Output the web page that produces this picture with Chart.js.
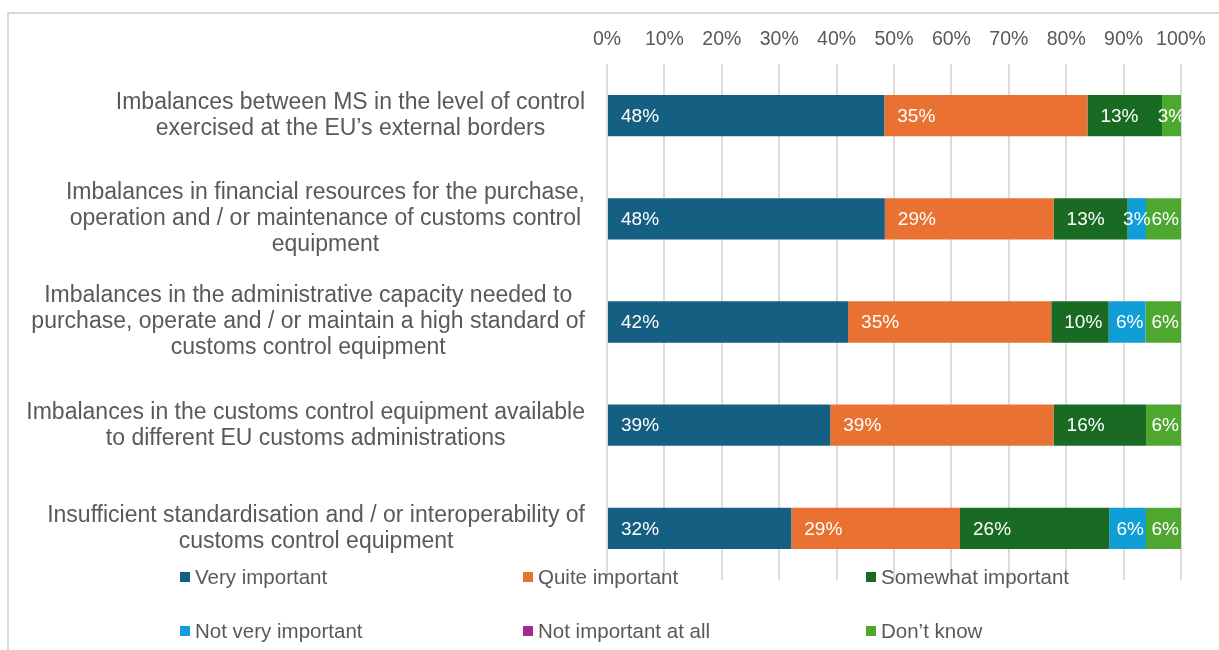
<!DOCTYPE html>
<html>
<head>
<meta charset="utf-8">
<title>Customs control equipment imbalances</title>
<script src="https://cdn.jsdelivr.net/npm/chart.js@4.4.1/dist/chart.umd.min.js"></script>
<style>
  html, body { margin: 0; padding: 0; background: #fff; overflow: hidden; }
  #wrap { position: relative; width: 1219px; height: 650px; }
  #frame { position: absolute; left: 7px; top: 12px; width: 1260px; height: 680px; border: 2px solid #d9d9d9; box-sizing: border-box; }
  #surveyChart { position: absolute; left: 0; top: 0; }
</style>
</head>
<body>
<div id="wrap">
  <div id="frame"></div>
  <canvas id="surveyChart" width="1219" height="650"></canvas>
</div>
<script>
const categories = [
    ["Imbalances between MS in the level of control", "exercised at the EU\u2019s external borders"],
    ["Imbalances in financial resources for the purchase,", "operation and / or maintenance of customs control", "equipment"],
    ["Imbalances in the administrative capacity needed to", "purchase, operate and / or maintain a high standard of", "customs control equipment"],
    ["Imbalances in the customs control equipment available", "to different EU customs administrations"],
    ["Insufficient standardisation and / or interoperability of", "customs control equipment"]
];

const veryImportant     = [48.3, 48.4, 42.0, 38.9, 32.1];
const quiteImportant    = [35.4, 29.4, 35.4, 38.9, 29.4];
const somewhatImportant = [13.0, 12.9, 10.0, 16.1, 26.0];
const notVeryImportant  = [0, 3.2, 6.4, 0, 6.4];
const notImportantAtAll = [0, 0, 0, 0, 0];
const dontKnow          = [3.3, 6.1, 6.2, 6.1, 6.1];

const tickLabels = ["0%", "10%", "20%", "30%", "40%", "50%", "60%", "70%", "80%", "90%", "100%"];

const FONT = '"Liberation Sans", Arial, sans-serif';
const GREY = '#595959';

// category text to the left of the bars, each block right-aligned, lines centred
const categoryLabels = {
    id: 'categoryLabels',
    afterDraw(chart) {
        const ctx = chart.ctx;
        const yScale = chart.scales.y;
        const right = chart.chartArea.left - 22;
        const lineH = 26;
        ctx.save();
        ctx.font = '23px ' + FONT;
        ctx.fillStyle = GREY;
        ctx.textAlign = 'center';
        ctx.textBaseline = 'middle';
        chart.data.labels.forEach((lines, i) => {
            const widest = Math.max(...lines.map(l => ctx.measureText(l).width));
            const cx = right - widest / 2;
            const cy = yScale.getPixelForValue(i);
            lines.forEach((line, j) => {
                ctx.fillText(line, cx, cy + (j - (lines.length - 1) / 2) * lineH);
            });
        });
        ctx.restore();
    }
};

// percentage text inside each segment, near the segment start
const barValueLabels = {
    id: 'barValueLabels',
    afterDatasetsDraw(chart) {
        const ctx = chart.ctx;
        const area = chart.chartArea;
        ctx.save();
        ctx.beginPath();
        ctx.rect(area.left, area.top, area.right - area.left, area.bottom - area.top);
        ctx.clip();
        ctx.font = '19px ' + FONT;
        ctx.fillStyle = '#ffffff';
        ctx.textAlign = 'left';
        ctx.textBaseline = 'middle';
        chart.data.datasets.forEach((ds, d) => {
            const meta = chart.getDatasetMeta(d);
            meta.data.forEach((bar, i) => {
                const v = ds.data[i];
                if (!v) return;
                const txt = Math.round(v) + '%';
                const tw = ctx.measureText(txt).width;
                const bw = bar.x - bar.base;
                // narrow segments get their text centred instead
                const off = Math.min(13, Math.max((bw - tw) / 2, bw - tw - 2));
                ctx.fillText(txt, bar.base + off, bar.y + 1);
            });
        });
        ctx.restore();
    }
};

// legend in three fixed columns under the plot
const columnLegend = {
    id: 'columnLegend',
    afterDraw(chart) {
        const ctx = chart.ctx;
        const startX = 180, colW = 343, rowH = 54;
        const top = chart.chartArea.bottom - 3;
        ctx.save();
        ctx.font = '20.5px ' + FONT;
        ctx.textBaseline = 'middle';
        ctx.textAlign = 'left';
        chart.data.datasets.forEach((ds, k) => {
            const x = startX + (k % 3) * colW;
            const y = top + Math.floor(k / 3) * rowH;
            ctx.fillStyle = ds.backgroundColor;
            ctx.fillRect(x, y - 5, 10, 10);
            ctx.fillStyle = GREY;
            ctx.fillText(ds.label, x + 15, y + 1);
        });
        ctx.restore();
    }
};

const surveyChart = new Chart(document.getElementById('surveyChart'), {
    type: 'bar',
    data: {
        labels: categories,
        datasets: [
            { label: 'Very important',        data: veryImportant,     backgroundColor: '#156082' },
            { label: 'Quite important',       data: quiteImportant,    backgroundColor: '#e97132' },
            { label: 'Somewhat important',    data: somewhatImportant, backgroundColor: '#196b24' },
            { label: 'Not very important',    data: notVeryImportant,  backgroundColor: '#0f9ed5' },
            { label: 'Not important at all',  data: notImportantAtAll, backgroundColor: '#a02b93' },
            { label: 'Don\u2019t know',       data: dontKnow,          backgroundColor: '#4ea72e' }
        ]
    },
    options: {
        indexAxis: 'y',
        responsive: false,
        animation: false,
        devicePixelRatio: 1,
        datasets: {
            bar: { categoryPercentage: 0.4, barPercentage: 1, borderWidth: 0 }
        },
        layout: {
            padding: { left: 607, right: 38, top: 28, bottom: 70 }
        },
        scales: {
            x: {
                position: 'top',
                stacked: true,
                min: 0,
                max: 100,
                border: { display: false },
                grid: { color: '#dcdcdc', lineWidth: 2, drawTicks: false },
                ticks: {
                    stepSize: 10,
                    padding: 13,
                    color: GREY,
                    font: { family: FONT, size: 19.5 },
                    maxRotation: 0,
                    callback: (v, i) => tickLabels[i]
                },
                afterFit(scale) {
                    scale.height = 36;
                    scale.paddingLeft = 0;
                    scale.paddingRight = 0;
                }
            },
            y: {
                stacked: true,
                display: false
            }
        },
        plugins: {
            legend: { display: false },
            tooltip: { enabled: false }
        }
    },
    plugins: [categoryLabels, barValueLabels, columnLegend]
});
</script>
</body>
</html>
